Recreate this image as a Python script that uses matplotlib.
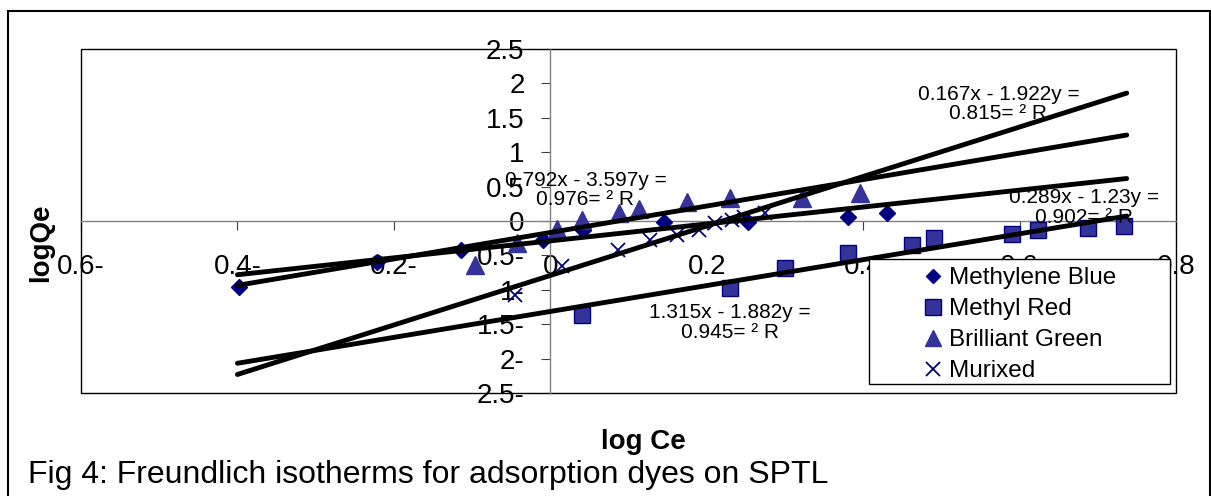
import numpy as np
import matplotlib.pyplot as plt
from matplotlib.patches import Rectangle
from matplotlib.lines import Line2D

plt.rcParams['font.family'] = ['Liberation Sans', 'DejaVu Sans']

# log Ce / log Qe for each dye
mb_x = [-0.398, -0.221, -0.114, -0.009, 0.042, 0.145, 0.253, 0.38, 0.43]
mb_y = [-0.96, -0.60, -0.42, -0.28, -0.13, -0.01, -0.01, 0.06, 0.12]

mr_x = [0.04, 0.23, 0.30, 0.38, 0.463, 0.49, 0.59, 0.623, 0.688, 0.734]
mr_y = [-1.37, -0.98, -0.69, -0.47, -0.35, -0.25, -0.19, -0.13, -0.10, -0.07]

bg_x = [-0.096, -0.043, 0.008, 0.04, 0.088, 0.113, 0.175, 0.23, 0.322, 0.396]
bg_y = [-0.64, -0.32, -0.12, 0.01, 0.12, 0.17, 0.27, 0.33, 0.33, 0.41]

mx_x = [-0.045, 0.015, 0.087, 0.128, 0.162, 0.19, 0.21, 0.232, 0.248, 0.275]
mx_y = [-1.08, -0.65, -0.42, -0.28, -0.20, -0.13, -0.03, 0.02, 0.06, 0.12]

# linear trendlines y = slope*x + intercept
mb_fit = (1.23, -0.289)
mr_fit = (1.882, -1.315)
bg_fit = (1.922, -0.167)
mx_fit = (3.597, -0.792)
fit_range = (-0.4, 0.737)

eq_labels = ['0.792x - 3.597y =\n0.976= \u00b2 R',
             '0.167x - 1.922y =\n0.815= \u00b2 R',
             '0.289x - 1.23y =\n0.902= \u00b2 R',
             '1.315x - 1.882y =\n0.945= \u00b2 R']
eq_pos = [(0.045, 0.45), (0.573, 1.70), (0.682, 0.20), (0.230, -1.48)]

xticks = [-0.6, -0.4, -0.2, 0, 0.2, 0.4, 0.6, 0.8]
xtick_labels = ['0.6-', '0.4-', '0.2-', '0', '0.2', '0.4', '0.6', '0.8']
yticks = [-2.5, -2, -1.5, -1, -0.5, 0, 0.5, 1, 1.5, 2, 2.5]
ytick_labels = ['2.5-', '2-', '1.5-', '1-', '0.5-', '0', '0.5', '1', '1.5', '2', '2.5']

navy = '#000080'
blue = '#333399'

W, H = 1211, 496
fig = plt.figure(figsize=(W / 100, H / 100), dpi=100)
ax = fig.add_axes([81 / W, 1 - 393 / H, (1176 - 81) / W, (393 - 49) / H])

ax.plot(mb_x, mb_y, 'D', color=navy, ms=8, mec=navy, zorder=3)
ax.plot(mr_x, mr_y, 's', color=blue, ms=11, mec=navy, mew=1, zorder=3)
ax.plot(bg_x, bg_y, '^', color=blue, ms=12.5, mec=blue, zorder=3)
ax.plot(mx_x, mx_y, 'x', color=navy, ms=10, mew=1.3, zorder=3)

xf = np.array(fit_range)
for slope, icpt in [mb_fit, mr_fit, bg_fit, mx_fit]:
    ax.plot(xf, slope * xf + icpt, color='black', lw=3.5, solid_capstyle='round', zorder=3.5)

for txt, (tx, ty) in zip(eq_labels, eq_pos):
    ax.text(tx, ty, txt, ha='center', va='center', fontsize=15,
            linespacing=1.05, zorder=3.6)

ax.set_xlim(-0.6, 0.8)
ax.set_ylim(-2.5, 2.5)
ax.spines['left'].set_position(('data', 0))
ax.spines['bottom'].set_position(('data', 0))
for s in ['left', 'bottom']:
    ax.spines[s].set_color('#808080')
    ax.spines[s].set_linewidth(1)
for s in ['top', 'right']:
    ax.spines[s].set_visible(False)
ax.add_patch(Rectangle((0, 0), 1, 1, transform=ax.transAxes, fill=False,
                       ec='black', lw=1, clip_on=False, zorder=2))

ax.set_xticks(xticks)
ax.set_xticklabels(xtick_labels)
ax.set_yticks(yticks)
ax.set_yticklabels(ytick_labels)
ax.tick_params(axis='x', direction='out', length=6.5, color='#404040',
               labelsize=20, pad=17)
ax.tick_params(axis='y', direction='out', length=6.5, color='#404040',
               labelsize=20, pad=12)

# legend box
ax.add_patch(Rectangle((869 / W, 1 - 384 / H), (1170 - 869) / W, (384 - 259) / H,
                       transform=fig.transFigure, fc='white', ec='black', lw=1,
                       clip_on=False, zorder=4))
handles = [
    Line2D([], [], ls='none', marker='D', color=navy, ms=7.5),
    Line2D([], [], ls='none', marker='s', color=blue, mec=navy, ms=11),
    Line2D([], [], ls='none', marker='^', color=blue, ms=12),
    Line2D([], [], ls='none', marker='x', color=navy, ms=10, mew=1.3),
]
leg = ax.legend(handles, ['Methylene Blue', 'Methyl Red', 'Brilliant Green', 'Murixed'],
                loc='upper left', bbox_to_anchor=(921 / W, 1 - 267 / H),
                bbox_transform=fig.transFigure, frameon=False, fontsize=17.5,
                borderpad=0, borderaxespad=0, handlelength=1.0,
                handletextpad=0.15, labelspacing=0.37)
leg.set_zorder(5)

fig.text(41 / W, 1 - 243 / H, 'logQe', rotation=90, ha='center', va='center',
         fontsize=20, fontweight='bold')
fig.text(643 / W, 1 - 442 / H, 'log Ce', ha='center', va='center',
         fontsize=20, fontweight='bold')
fig.text(28 / W, 1 - 475 / H, 'Fig 4: Freundlich isotherms for adsorption dyes on SPTL',
         ha='left', va='center', fontsize=23)

fig.patches.append(Rectangle((8 / W, -0.02), 1202 / W, (H - 11) / H + 0.02,
                             transform=fig.transFigure, fill=False, ec='black',
                             lw=1.5, figure=fig))

fig.savefig('out.png', dpi=100)
